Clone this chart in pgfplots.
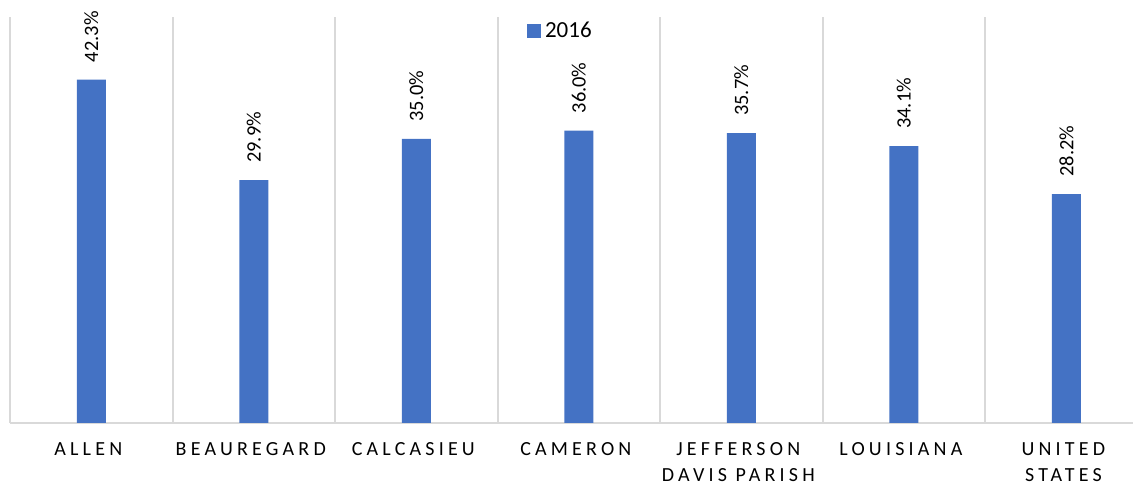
\documentclass[border=0pt]{standalone}
\usepackage{pgfplots}
\pgfplotsset{compat=1.18}
\usepackage{fontspec}
\setmainfont{Carlito}
\definecolor{barblue}{HTML}{4472C4}
\definecolor{gridgray}{HTML}{D9D9D9}
\begin{document}
\begin{tikzpicture}
\begin{axis}[
  at={(5pt,31pt)}, anchor=south west,
  scale only axis, width=561.5pt, height=203pt,
  ymin=0, ymax=50, xmin=-0.5, xmax=6.41,
  ybar, bar width=14.5pt,
  axis x line*=bottom, axis y line=none,
  x axis line style={gridgray, line width=1pt, -},
  xtick={0,1,2,3,4,5,6},
  xticklabels={ALLEN, BEAUREGARD, CALCASIEU, CAMERON, {JEFFERSON\\DAVIS PARISH}, LOUISIANA, {UNITED\\STATES}},
  major tick length=0pt,
  minor xtick={-0.5,0.5,1.5,2.5,3.5,4.5,5.5},
  xminorgrids, minor tick length=0pt,
  minor grid style={gridgray, line width=1pt},
  ytick=\empty,
  /pgf/number format/assume math mode=true,
  xticklabel style={font=\fontsize{10}{13}\selectfont\addfontfeature{LetterSpace=21}, align=center, anchor=north, inner sep=0pt, yshift=-9.5pt, xshift=-1.5pt},
  nodes near coords={\pgfmathprintnumber[fixed,precision=1,zerofill,assume math mode=true]{\pgfplotspointmeta}\%},
  nodes near coords style={rotate=90, anchor=west, inner xsep=8.5pt, inner ysep=0pt, font=\fontsize{10.2}{12}\selectfont, black},
  legend style={at={(0.491,0.966)}, anchor=center, draw=none, fill=none, font=\fontsize{11.5}{13}\selectfont, inner sep=0pt},
  legend image code/.code={\fill[barblue] (0pt,-3.5pt) rectangle (7pt,3.5pt);},
  clip=false,
]
\addplot[fill=barblue, draw=none] coordinates {(0,42.3) (1,29.9) (2,35.0) (3,36.0) (4,35.7) (5,34.1) (6,28.2)};
\addlegendentry{2016}
\end{axis}
\pgfresetboundingbox
\path[use as bounding box] (0,0) rectangle (566.5pt,242.5pt);
\end{tikzpicture}
\end{document}
